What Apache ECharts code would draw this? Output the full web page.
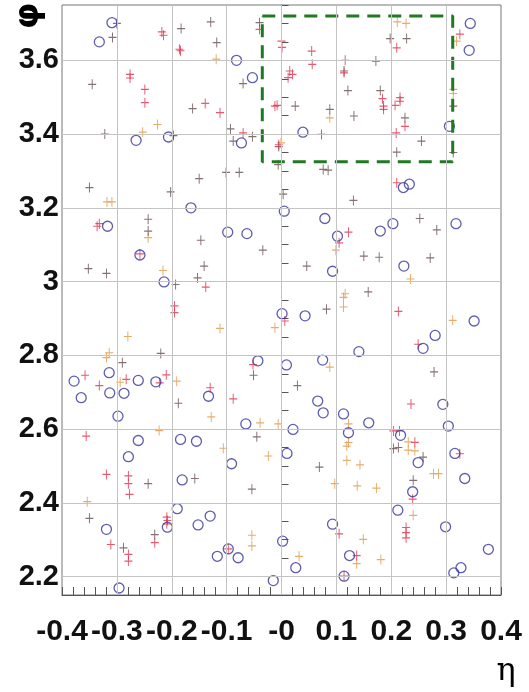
<!DOCTYPE html>
<html><head><meta charset="utf-8">
<script src="https://cdn.jsdelivr.net/npm/echarts@6/dist/echarts.min.js"></script>
<style>html,body{margin:0;padding:0;background:#fff}#c{width:529px;height:692px}</style>
</head><body><div id="c"></div>
<script>
const xTickValues = [-0.4,-0.3,-0.2,-0.1,0,0.1,0.2,0.3,0.4];
const xTickLabels = ['-0.4','-0.3','-0.2','-0.1','-0','0.1','0.2','0.3','0.4'];
const yTickValues = [2.2,2.4,2.6,2.8,3.0,3.2,3.4,3.6];
const yTickLabels = ['2.2','2.4','2.6','2.8','3','3.2','3.4','3.6'];
const boxEta = [-0.035, 0.312];
const boxPhi = [3.325, 3.72];

const circles = [
[-0.309,3.702],[-0.332,3.650],[-0.082,3.600],[-0.053,3.553],[-0.265,3.383],[-0.206,3.392],[-0.073,3.376],
[0.039,3.405],[0.306,3.421],[0.344,3.700],[0.342,3.627],[-0.317,3.150],[-0.258,3.072],[-0.214,2.999],
[-0.165,3.200],[-0.098,3.134],[-0.063,3.130],[0.005,3.191],[0.222,3.255],[0.233,3.264],[0.079,3.171],
[0.102,3.123],[0.180,3.137],[0.203,3.157],[0.318,3.157],[0.093,3.028],[0.223,3.042],[0.001,2.913],
[0.043,2.907],[0.351,2.893],[0.280,2.854],[0.258,2.819],[0.141,2.810],[0.075,2.787],[0.009,2.774],
[0.066,2.676],[0.076,2.644],[0.113,2.641],[0.159,2.617],[0.122,2.590],[0.294,2.667],[0.304,2.608],
[0.217,2.583],[0.021,2.599],[-0.314,2.753],[-0.378,2.730],[-0.261,2.732],[-0.229,2.728],[-0.365,2.685],
[-0.313,2.698],[-0.287,2.697],[-0.133,2.689],[-0.298,2.635],[-0.043,2.785],[-0.065,2.614],[-0.261,2.569],
[-0.184,2.572],[-0.155,2.567],[-0.279,2.525],[-0.091,2.506],[-0.181,2.462],[-0.319,2.328],[-0.208,2.334],
[-0.190,2.384],[-0.152,2.340],[-0.130,2.364],[-0.117,2.255],[-0.097,2.275],[-0.079,2.251],[-0.015,2.189],
[0.002,2.296],[-0.296,2.169],[0.010,2.534],[0.249,2.509],[0.316,2.534],[0.334,2.466],[0.239,2.430],
[0.212,2.380],[0.093,2.342],[0.299,2.335],[0.124,2.257],[0.026,2.224],[0.114,2.201],[0.377,2.274],
[0.327,2.224],[0.314,2.210]
];

const redPlus = [
[-0.218,3.677],[-0.215,3.668],[-0.186,3.630],[-0.184,3.626],[-0.012,3.476],[-0.008,3.478],[0.000,3.652],
[0.001,3.635],[0.055,3.625],[0.056,3.589],[0.015,3.571],[0.012,3.553],[0.020,3.562],[0.116,3.600],
[0.114,3.566],[0.184,3.496],[0.186,3.476],[0.186,3.467],[0.207,3.478],[0.216,3.499],[0.216,3.489],
[0.225,3.421],[0.209,3.403],[0.210,3.634],[0.325,3.671],[-0.005,3.371],[-0.276,3.562],[-0.276,3.552],
[-0.249,3.521],[-0.249,3.485],[-0.139,3.483],[-0.112,3.458],[-0.070,3.403],[-0.040,3.684],
[-0.332,3.157],[-0.336,3.150],[-0.258,3.075],[-0.138,2.985],[0.210,3.268],[0.122,3.134],[0.105,3.105],
[-0.195,2.934],[-0.195,2.916],[-0.358,2.746],[-0.332,2.718],[-0.283,2.735],[-0.222,2.725],[-0.210,2.747],
[-0.130,2.712],[-0.088,2.682],[-0.052,2.775],[-0.356,2.581],[0.006,2.893],[0.213,2.919],[0.249,2.830],
[0.236,2.668],[0.215,2.595],[0.243,2.564],[-0.279,2.473],[-0.279,2.452],[-0.277,2.423],[-0.311,2.287],
[-0.279,2.260],[-0.279,2.242],[-0.231,2.292],[-0.209,2.361],[-0.208,2.352],[-0.209,2.343],[-0.097,2.275],
[0.105,2.316],[0.227,2.333],[0.227,2.319],[0.227,2.305],[0.137,2.257],[0.114,2.201],[0.325,2.533],
[0.239,2.410],[-0.319,2.477],[0.204,2.595]
];

const darkPlus = [
[-0.300,3.700],[-0.308,3.662],[-0.183,3.686],[-0.129,3.704],[-0.118,3.648],[-0.070,3.537],[-0.040,3.702],
[-0.345,3.535],[-0.162,3.469],[-0.322,3.400],[-0.197,3.396],[-0.093,3.414],[-0.088,3.381],[-0.053,3.393],
[0.025,3.476],[0.088,3.467],[0.073,3.399],[0.114,3.571],[0.121,3.518],[0.132,3.449],[0.172,3.598],
[0.198,3.659],[0.228,3.659],[0.180,3.518],[0.225,3.444],[0.255,3.381],[0.313,3.476],[0.313,3.350],
[0.210,3.351],[0.076,3.304],[-0.006,3.317],[-0.005,3.366],
[-0.350,3.255],[-0.243,3.169],[-0.243,3.137],[-0.352,3.035],[-0.319,3.022],[-0.193,2.992],[-0.202,3.243],
[-0.150,3.279],[-0.101,3.296],[-0.077,3.296],[-0.147,3.112],[-0.034,3.085],[-0.141,3.042],[-0.153,3.010],
[0.003,3.237],[0.085,3.302],[0.131,3.220],[0.283,3.140],[0.046,3.042],[0.150,3.069],[0.271,3.064],
[0.158,2.972],[0.082,2.925],[0.278,2.755],[0.029,2.718],[-0.290,2.780],[-0.220,2.805],[-0.188,2.670],
[-0.051,2.746],[-0.045,2.579],[-0.243,2.452],[-0.158,2.466],[-0.054,2.437],[-0.350,2.358],[-0.288,2.278],
[-0.231,2.314],[0.069,2.497],[0.213,2.550],[0.240,2.461],[0.204,2.547],[0.258,2.524],[0.252,3.171],
[0.178,3.066]
];

const orangePlus = [
[-0.119,3.603],[-0.226,3.426],[-0.253,3.405],[-0.001,3.376],[0.088,3.444],[0.211,3.704],[0.227,3.700],
[0.319,3.652],[0.313,3.521],[0.313,3.510],[-0.318,3.216],[-0.309,3.216],[-0.243,3.119],[-0.216,3.030],
[0.099,3.085],[0.235,3.007],[0.116,2.967],[0.113,2.931],[0.113,2.957],[0.312,2.895],[0.088,2.768],
[0.122,2.614],[0.122,2.563],[-0.112,2.873],[-0.280,2.851],[-0.314,2.807],[-0.319,2.794],[-0.294,2.727],
[-0.191,2.730],[-0.128,2.633],[-0.039,2.617],[-0.006,2.614],[-0.223,2.596],[-0.012,2.875],[-0.106,2.548],
[-0.024,2.527],[-0.354,2.403],[-0.054,2.312],[-0.054,2.283],[0.119,2.515],[0.119,2.554],[0.143,2.503],
[0.097,2.452],[0.138,2.446],[0.173,2.440],[0.243,2.541],[0.286,2.479],[0.240,2.366],[0.149,2.301],
[0.137,2.235],[0.181,2.246],[0.032,2.255],[0.231,2.565],[0.231,2.543],[0.277,2.479]
];

function labelFor(v, vals, labs) {
  for (let i = 0; i < vals.length; i++) if (Math.abs(v - vals[i]) < 1e-6) return labs[i];
  return '';
}
const plusPath = 'path://M4.4,0H5.6V10H4.4Z M0,4.4H10V5.6H0Z';
const boxLine = [[boxEta[0],boxPhi[1]],[boxEta[1],boxPhi[1]],[boxEta[1],boxPhi[0]],[boxEta[0],boxPhi[0]],[boxEta[0],boxPhi[1]]];

const chart = echarts.init(document.getElementById('c'));
chart.setOption({
  animation: false,
  backgroundColor: '#fff',
  grid: {left: 62, right: 28, top: 5, bottom: 97, show: true, borderColor: '#777', borderWidth: 1},
  xAxis: {
    type: 'value', min: -0.4, max: 0.4, interval: 0.02,
    axisLine: {show: true, lineStyle: {color: '#555', width: 1}},
    axisTick: {show: true, inside: true, length: 8, lineStyle: {color: '#555'}},
    splitLine: {show: false},
    axisLabel: {
      margin: 22, color: '#111', fontFamily: 'Liberation Sans', fontWeight: 'bold', fontSize: 30,
      formatter: v => labelFor(v, xTickValues, xTickLabels)
    }
  },
  yAxis: {
    type: 'value', min: 2.15, max: 3.75, interval: 0.05,
    axisLine: {show: true, lineStyle: {color: '#555', width: 1}},
    axisTick: {show: true, inside: true, length: 7, lineStyle: {color: '#555'}},
    splitLine: {show: false},
    axisLabel: {
      margin: 3, color: '#111', fontFamily: 'Liberation Sans', fontWeight: 'bold', fontSize: 29,
      formatter: v => labelFor(v, yTickValues, yTickLabels)
    }
  },
  graphic: [
    {type: 'text', x: 29, y: 16, rotation: Math.PI / 2,
     style: {text: 'φ', font: 'bold 34px "DejaVu Sans"', textAlign: 'center', textVerticalAlign: 'middle', fill: '#000'}},
    {type: 'text', x: 506, y: 672,
     style: {text: 'η', font: '32px "DejaVu Serif"', textAlign: 'center', textVerticalAlign: 'middle', fill: '#000'}}
  ],
  series: [
    {type: 'line', data: [], silent: true,
     markLine: {silent: true, symbol: 'none', animation: false, label: {show: false},
       lineStyle: {color: '#c4c4c4', width: 1, type: 'solid'},
       data: xTickValues.slice(1, -1).map(v => ({xAxis: v})).concat(yTickValues.map(v => ({yAxis: v})))}},
    {name: 'orange', type: 'scatter', data: orangePlus, symbol: plusPath, symbolSize: [8, 10],
     itemStyle: {color: '#e3a35a', opacity: 0.9}},
    {name: 'dark', type: 'scatter', data: darkPlus, symbol: plusPath, symbolSize: [8, 10],
     itemStyle: {color: '#6e5858', opacity: 0.85}},
    {name: 'red', type: 'scatter', data: redPlus, symbol: plusPath, symbolSize: [8, 10],
     itemStyle: {color: '#e0304a'}},
    {name: 'circ', type: 'scatter', data: circles, symbol: 'circle', symbolSize: 10,
     itemStyle: {color: 'rgba(0,0,0,0)', borderColor: '#34349e', borderWidth: 1.3}},
    {name: 'box', type: 'line', data: boxLine, showSymbol: false, silent: true,
     lineStyle: {color: '#1f7a22', width: 3, type: [13, 8]}}
  ]
});
</script></body></html>
